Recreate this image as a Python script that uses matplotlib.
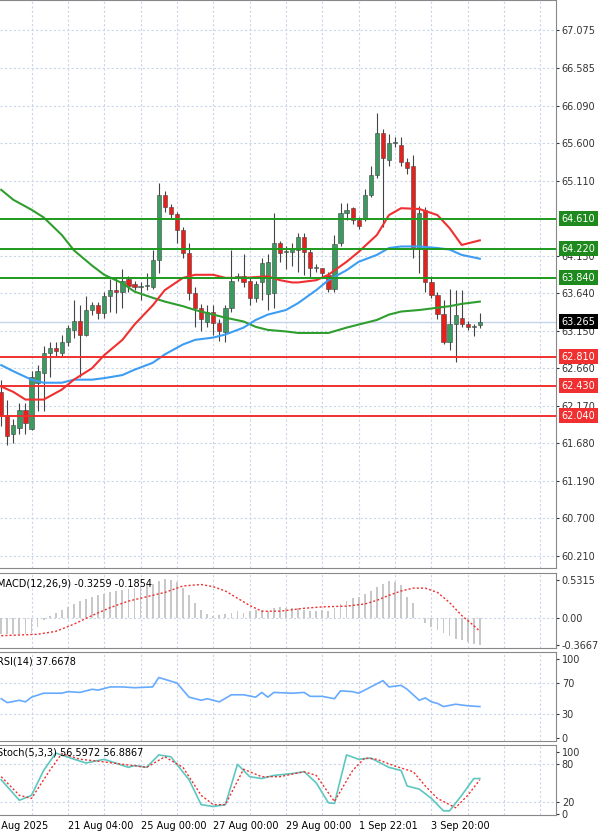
import matplotlib
matplotlib.use("Agg")
import matplotlib.pyplot as plt
from matplotlib.transforms import blended_transform_factory as btf

opens  = [62.35,62.05,61.80,61.88,62.12,61.86,62.46,62.60,62.86,62.92,62.86,63.00,63.16,63.28,63.10,63.42,63.48,63.38,63.60,63.68,
          63.65,63.82,63.76,63.72,63.74,63.72,64.07,64.92,64.76,64.67,64.46,64.16,63.64,63.44,63.26,63.40,63.25,63.13,63.45,63.84,
          63.86,63.80,63.58,63.78,63.63,63.64,64.30,64.18,64.18,64.20,64.37,64.18,63.97,63.97,63.88,63.70,64.29,64.69,64.75,64.60,
          64.62,64.92,65.18,65.73,65.38,65.60,65.58,65.35,65.30,64.23,64.72,63.79,63.62,63.37,63.00,63.24,63.32,63.24,63.20,63.22]
closes = [62.05,61.78,61.92,62.12,61.95,62.55,62.62,62.86,62.92,62.88,63.00,63.18,63.28,63.10,63.42,63.48,63.38,63.60,63.68,63.65,
          63.80,63.74,63.72,63.74,63.74,64.07,64.92,64.76,64.67,64.46,64.16,63.64,63.44,63.30,63.40,63.25,63.15,63.45,63.80,63.86,
          63.78,63.58,63.76,64.04,64.05,64.29,64.17,64.18,64.22,64.37,64.18,63.97,63.97,63.91,63.70,64.28,64.69,64.72,64.60,64.52,
          64.92,65.18,65.73,65.40,65.60,65.60,65.35,65.27,64.23,64.69,63.79,63.62,63.37,63.00,63.24,63.35,63.24,63.20,63.21,63.265]
highs  = [62.50,62.25,62.00,62.20,62.20,62.62,62.70,62.95,63.00,63.00,63.10,63.22,63.55,63.48,63.60,63.52,63.52,63.65,63.82,63.85,
          63.95,63.86,63.80,63.78,63.90,64.20,65.08,64.98,64.80,64.70,64.50,64.30,63.72,63.50,63.48,63.48,63.30,63.48,64.20,63.90,
          64.15,63.85,63.80,64.10,64.15,64.69,64.32,64.25,64.30,64.42,64.42,64.22,64.02,63.97,63.92,64.40,64.82,64.82,64.77,64.64,
          65.00,65.30,66.00,65.78,65.72,65.68,65.68,65.40,65.45,64.78,64.76,63.86,63.65,63.55,63.70,63.68,63.68,63.28,63.24,63.38]
lows   = [61.90,61.65,61.68,61.80,61.80,61.85,62.10,62.10,62.55,62.80,62.82,62.95,63.05,62.55,63.08,63.35,63.30,63.32,63.40,63.38,
          63.45,63.66,63.68,63.55,63.68,63.70,63.90,64.70,64.62,64.30,64.10,63.55,63.20,63.15,63.20,63.10,63.02,63.00,63.40,63.80,
          63.72,63.48,63.52,63.55,63.42,63.45,64.05,63.95,64.00,63.92,63.88,63.85,63.92,63.85,63.65,63.65,64.25,64.60,64.55,64.48,
          64.58,64.90,65.15,64.50,65.30,65.55,65.30,65.20,64.10,63.90,63.65,63.58,63.30,62.98,62.90,62.74,63.20,63.16,63.08,63.18]

ma_red_x  = [0,2,4,7,10,12,15,17,20,22,25,27,30,32,35,37,40,42,44,46,48,49,52,54,57,59,62,64,66,69,72,74,76,79]
ma_red_y  = [62.42,62.35,62.25,62.25,62.38,62.51,62.66,62.83,63.03,63.23,63.48,63.68,63.84,63.88,63.88,63.84,63.84,63.85,63.86,63.81,63.78,63.78,63.81,63.88,64.05,64.18,64.40,64.66,64.75,64.74,64.66,64.49,64.27,64.33]
ma_blue_x = [0,2,5,7,10,12,15,17,20,22,25,27,30,32,35,37,40,42,44,47,49,52,54,57,59,62,64,66,69,72,74,76,79]
ma_blue_y = [62.70,62.62,62.51,62.47,62.47,62.51,62.51,62.53,62.57,62.64,62.73,62.84,62.97,63.03,63.06,63.10,63.19,63.29,63.36,63.42,63.51,63.68,63.81,63.94,64.05,64.14,64.23,64.25,64.25,64.23,64.21,64.14,64.09]
ma_grn_x  = [0,2,5,7,10,12,15,17,20,22,25,27,30,32,35,37,40,42,44,47,49,52,54,57,59,62,64,66,69,72,74,76,79]
ma_grn_y  = [64.99,64.86,64.73,64.63,64.40,64.20,64.00,63.88,63.77,63.66,63.58,63.53,63.47,63.42,63.36,63.32,63.27,63.20,63.16,63.14,63.12,63.12,63.12,63.19,63.23,63.29,63.36,63.40,63.42,63.45,63.47,63.50,63.53]

res_levels = [64.61, 64.22, 63.84]
sup_levels = [62.81, 62.43, 62.04]
last_price = 63.265
price_ticks = [67.075,66.585,66.090,65.600,65.110,64.130,63.640,63.150,62.660,62.170,61.680,61.190,60.700,60.210]

macd_hist = [-0.22,-0.22,-0.22,-0.22,-0.22,-0.20,-0.12,-0.02,0.04,0.08,0.12,0.16,0.20,0.24,0.27,0.30,0.32,0.34,0.36,0.38,
             0.40,0.41,0.42,0.44,0.46,0.48,0.52,0.55,0.53,0.50,0.42,0.32,0.22,0.12,0.06,0.04,0.05,0.06,0.08,0.10,
             0.08,0.10,0.12,0.12,0.10,0.14,0.16,0.15,0.14,0.14,0.12,0.10,0.10,0.12,0.10,0.15,0.20,0.24,0.28,0.30,
             0.34,0.38,0.44,0.48,0.52,0.50,0.46,0.30,0.22,0.00,-0.06,-0.12,-0.16,-0.20,-0.24,-0.28,-0.30,-0.33,-0.35,-0.37]
sig_x = [0,3,6,9,12,15,18,21,24,27,30,33,35,37,39,41,43,46,50,53,57,60,62,64,66,68,70,72,74,76,78,79]
sig_y = [-0.24,-0.23,-0.22,-0.18,-0.08,0.04,0.15,0.24,0.30,0.36,0.45,0.47,0.44,0.38,0.28,0.18,0.10,0.10,0.14,0.16,0.17,0.20,0.25,0.32,0.38,0.42,0.42,0.36,0.22,0.04,-0.10,-0.18]

rsi_x = [0,1,3,4,5,7,10,11,13,15,16,18,20,22,25,26,29,31,33,34,36,38,40,42,43,44,45,48,50,51,53,55,56,58,59,63,64,66,67,69,70,71,72,73,75,77,79]
rsi_y = [50,45,48,46,52,57,57,59,58,62,61,65,65,64,65,77,70,52,48,50,46,55,55,52,58,52,58,57,58,53,53,50,60,59,57,73,65,67,62,48,51,46,44,40,43,41,40]

stk_x = [0,3,5,7,9,13,14,17,21,22,24,26,28,31,33,35,37,39,41,43,45,48,50,52,54,55,57,59,61,64,66,67,69,71,73,74,76,78,79]
stk_y = [55,22,30,70,98,85,82,88,75,78,75,95,92,55,15,12,15,80,60,57,62,65,68,50,18,17,95,88,90,75,70,45,40,25,5,5,30,57,57]
std_x = [0,3,5,8,10,13,16,20,24,27,30,33,35,37,40,43,46,50,52,55,58,60,62,65,68,70,72,75,77,79]
std_y = [60,30,25,70,97,88,85,80,75,92,75,30,15,15,72,60,60,68,62,20,70,90,88,77,68,45,25,10,30,55]

date_pos = [11, 23, 35, 47, 59, 71]
date_lbl = ["21 Aug 04:00", "25 Aug 00:00", "27 Aug 00:00", "29 Aug 00:00", "1 Sep 22:01", "3 Sep 20:00"]

GREEN_C = "#3a9a5f"; RED_C = "#e8201c"; GRID = "#c9d6ea"
FS = 7
fig = plt.figure(figsize=(6, 8.35), dpi=100)
W = 0.927
ax = fig.add_axes([0, 0.3198, W, 0.6802])
am = fig.add_axes([0, 0.224, W, 0.0898], sharex=ax)
ar = fig.add_axes([0, 0.1126, W, 0.1066], sharex=ax)
ast = fig.add_axes([0, 0.024, W, 0.0838], sharex=ax)
grid_x = [-0.5 + 6 * k + 5.5 for k in range(16)]

for a in (ax, am, ar, ast):
    a.set_xlim(-0.2, 91.6)
    for s in a.spines.values():
        s.set_color("#888888")
    a.spines["left"].set_visible(False)
    a.yaxis.tick_right()
    a.tick_params(axis="y", labelsize=FS, length=2, colors="#333333", pad=2)
    a.tick_params(axis="x", length=0, labelbottom=False)
    for gx in grid_x:
        a.axvline(gx, color=GRID, lw=0.8, ls=(0, (2, 2)), zorder=0)

# main
ax.set_ylim(60.05, 67.47)
ax.set_yticks(price_ticks)
ax.set_yticklabels([f"{t:.3f}" for t in price_ticks])
for t in price_ticks:
    ax.axhline(t, color=GRID, lw=0.8, ls=(0, (2, 2)), zorder=0)
for i, (o, c, h, l) in enumerate(zip(opens, closes, highs, lows)):
    col = GREEN_C if c >= o else RED_C
    ax.vlines(i, l, h, color="#444444", lw=0.8, zorder=3)
    lo, hi = min(o, c), max(o, c)
    ax.bar(i, max(hi - lo, 0.012), bottom=lo, width=0.7, color=col, edgecolor="#444444", linewidth=0.4, zorder=4)
ax.plot(ma_grn_x, ma_grn_y, color="#2f9e2f", lw=1.5, zorder=5)
ax.plot(ma_blue_x, ma_blue_y, color="#3d9df3", lw=1.5, zorder=5)
ax.plot(ma_red_x, ma_red_y, color="#f03030", lw=1.5, zorder=5)
ax.axhline(last_price, color="#c6d4ea", lw=1, zorder=1)
tr = btf(ax.transAxes, ax.transData)
for lv in res_levels:
    ax.axhline(lv, color="#1e9a1e", lw=1.4, zorder=6)
    ax.text(1.01, lv, f"{lv:.3f}", transform=tr, fontsize=FS, color="white", va="center", ha="left",
            bbox=dict(boxstyle="square,pad=0.25", fc="#1e8a1e", ec="none"), clip_on=False, zorder=10)
for lv in sup_levels:
    ax.axhline(lv, color="#f03030", lw=1.4, zorder=6)
    ax.text(1.01, lv, f"{lv:.3f}", transform=tr, fontsize=FS, color="white", va="center", ha="left",
            bbox=dict(boxstyle="square,pad=0.25", fc="#f03030", ec="none"), clip_on=False, zorder=10)
ax.text(1.01, last_price, f"{last_price:.3f}", transform=tr, fontsize=FS, color="white", va="center", ha="left",
        bbox=dict(boxstyle="square,pad=0.25", fc="black", ec="none"), clip_on=False, zorder=10)

# MACD
xs = list(range(len(macd_hist)))
am.set_ylim(-0.41, 0.63)
am.set_yticks([0.5315, 0.0, -0.3667]); am.set_yticklabels(["0.5315", "0.00", "-0.3667"])
am.axhline(0, color=GRID, lw=0.8, ls=(0, (2, 2)), zorder=0)
am.bar(xs, macd_hist, width=0.3, color="#c8c8c8", zorder=2)
am.plot(sig_x, sig_y, color="#f03030", lw=1, ls=(0, (1.5, 1.5)), zorder=3)
am.text(-0.005, 0.93, "MACD(12,26,9) -0.3259 -0.1854", transform=am.transAxes, fontsize=FS, va="top", ha="left")

# RSI
ar.set_ylim(-3.8, 109.5)
ar.set_yticks([100, 70, 30, 0])
for t in (70, 30):
    ar.axhline(t, color=GRID, lw=0.8, ls=(0, (2, 2)), zorder=0)
ar.plot(rsi_x, rsi_y, color="#66aaff", lw=1.2)
ar.text(-0.005, 0.95, "RSI(14) 37.6678", transform=ar.transAxes, fontsize=FS, va="top", ha="left")

# Stoch
ast.set_ylim(-1.6, 111)
ast.set_yticks([100, 80, 20, 0])
for t in (80, 20):
    ast.axhline(t, color=GRID, lw=0.8, ls=(0, (2, 2)), zorder=0)
ast.plot(stk_x, stk_y, color="#5cc7c0", lw=1.2)
ast.plot(std_x, std_y, color="#f03030", lw=1, ls=(0, (1.5, 1.5)))
ast.text(-0.005, 0.96, "Stoch(5,3,3) 56.5972 56.8867", transform=ast.transAxes, fontsize=FS, va="top", ha="left")

# date labels
trd = btf(ast.transData, ast.transAxes)
ast.text(-1.5, -0.08, "9 Aug 2025", transform=trd, fontsize=FS, va="top", ha="left")
for p, l in zip(date_pos, date_lbl):
    ast.text(p, -0.08, l, transform=trd, fontsize=FS, va="top", ha="left")

fig.savefig("out.png", dpi=100, facecolor="white")
